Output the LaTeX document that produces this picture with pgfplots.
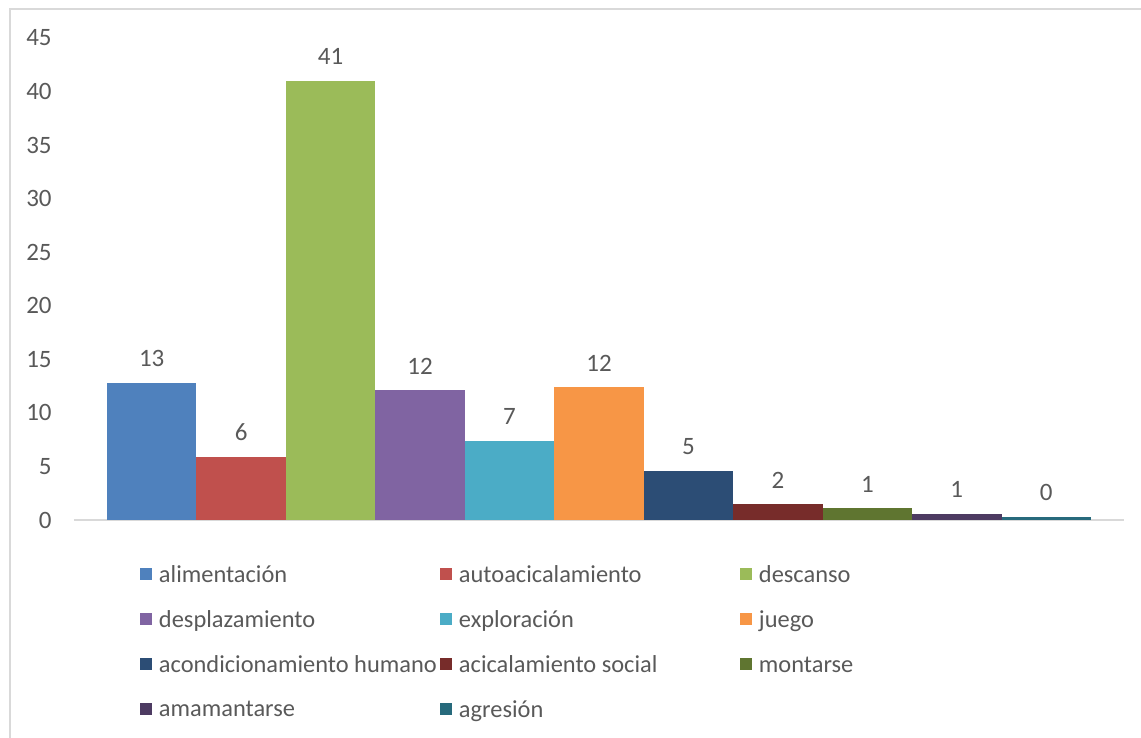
\documentclass[border=0pt]{standalone}
\usepackage{pgfplots}
\pgfplotsset{compat=1.18}
\usepackage{fontspec}
\setmainfont{Carlito}

\definecolor{txt}{HTML}{595959}
\definecolor{grid}{HTML}{D9D9D9}
\definecolor{c1}{HTML}{4F81BD}
\definecolor{c2}{HTML}{C0504D}
\definecolor{c3}{HTML}{9BBB59}
\definecolor{c4}{HTML}{8064A2}
\definecolor{c5}{HTML}{4BACC6}
\definecolor{c6}{HTML}{F79646}
\definecolor{c7}{HTML}{2C4D75}
\definecolor{c8}{HTML}{772C2A}
\definecolor{c9}{HTML}{5F7530}
\definecolor{c10}{HTML}{4D3B62}
\definecolor{c11}{HTML}{276A7C}

% legend entry of fixed column width
\newcommand{\lentry}[1]{\makebox[140.5pt][l]{#1}}

\begin{document}
\begin{tikzpicture}
  \path[use as bounding box] (-37pt,-109pt) rectangle (533.5pt,260pt);
  \draw[grid, line width=0.75pt] (-32pt,-112pt) -- (-32pt,255.5pt) -- (540pt,255.5pt);
  \begin{axis}[
    scale only axis,
    width=525pt, height=241pt,
    xmin=-0.869, xmax=10.869,
    ymin=0, ymax=45,
    ytick={0,5,...,45},
    xtick=\empty,
    axis x line=bottom, axis y line=left,
    axis line style={-},
    x axis line style={grid, line width=1pt},
    y axis line style={draw=none},
    major tick length=0pt,
    yticklabel style={inner sep=0pt, xshift=-11pt, font=\fontsize{12.5}{15}\selectfont, text=txt},
    /pgf/number format/assume math mode=true,
    ybar, bar width=1, bar shift=0pt,
    every axis plot/.append style={draw=none},
    nodes near coords,
    point meta=explicit symbolic,
    every node near coord/.append style={inner sep=0pt, yshift=7.75pt, text=txt, font=\fontsize{12.5}{15}\selectfont},
    legend columns=3,
    legend cell align=left,
    legend image code/.code={\fill[#1] (0pt,-2.25pt) rectangle (6pt,3.75pt);},
    legend style={at={(rel axis cs:0,0)}, anchor=north west, xshift=33pt, yshift=-23pt,
      draw=none, fill=none, inner sep=0pt, outer sep=0pt,
      font=\fontsize{12.2}{15}\selectfont, text=txt,
      nodes={inner sep=0pt},
      /tikz/every odd column/.style={column sep=3.5pt},
      row sep=12.5pt},
  ]
    \addplot[fill=c1] coordinates {(0,12.8) [13]};
    \addlegendentry{\lentry{alimentación}}
    \addplot[fill=c2] coordinates {(1,5.9) [6]};
    \addlegendentry{\lentry{autoacicalamiento}}
    \addplot[fill=c3] coordinates {(2,41.0) [41]};
    \addlegendentry{\lentry{descanso}}
    \addplot[fill=c4] coordinates {(3,12.1) [12]};
    \addlegendentry{\lentry{desplazamiento}}
    \addplot[fill=c5] coordinates {(4,7.4) [7]};
    \addlegendentry{\lentry{exploración}}
    \addplot[fill=c6] coordinates {(5,12.4) [12]};
    \addlegendentry{\lentry{juego}}
    \addplot[fill=c7] coordinates {(6,4.6) [5]};
    \addlegendentry{\lentry{acondicionamiento humano}}
    \addplot[fill=c8] coordinates {(7,1.5) [2]};
    \addlegendentry{\lentry{acicalamiento social}}
    \addplot[fill=c9] coordinates {(8,1.1) [1]};
    \addlegendentry{\lentry{montarse}}
    \addplot[fill=c10] coordinates {(9,0.6) [1]};
    \addlegendentry{\lentry{amamantarse}}
    \addplot[fill=c11] coordinates {(10,0.3) [0]};
    \addlegendentry{\lentry{agresión}}
  \end{axis}
\end{tikzpicture}
\end{document}
